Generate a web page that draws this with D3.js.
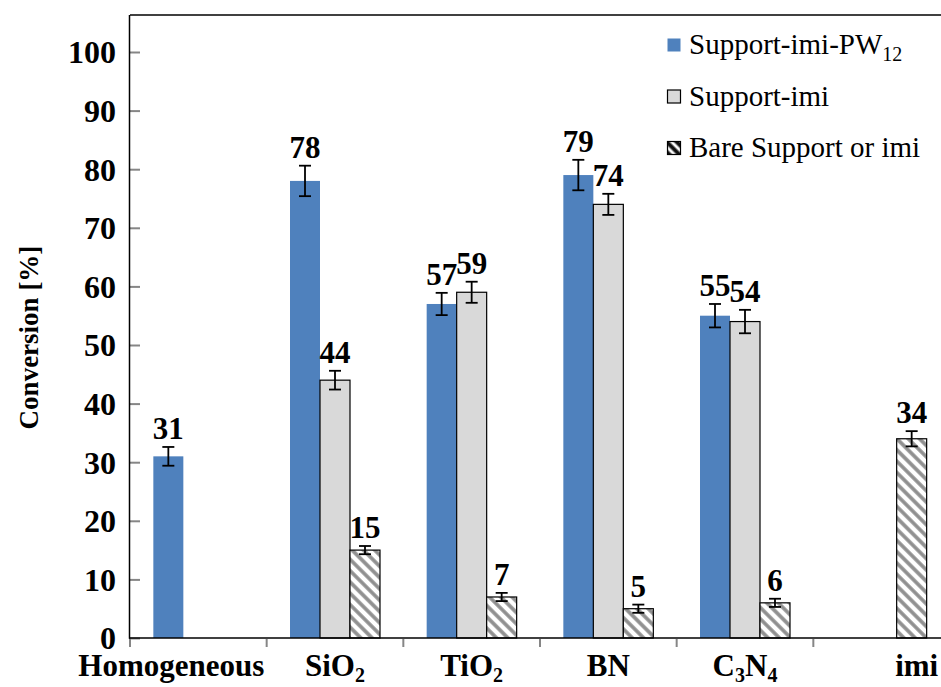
<!DOCTYPE html>
<html>
<head>
<meta charset="utf-8">
<script src="https://cdn.jsdelivr.net/npm/d3@7"></script>
<style>
  html, body { margin: 0; padding: 0; background: #fff; }
  svg { display: block; }
  text { font-family: "Liberation Serif", serif; fill: #000; }
</style>
</head>
<body>
<div id="chart"></div>
<script>
// Catalyst conversion by support
const categories = ["Homogeneous", "SiO2", "TiO2", "BN", "C3N4", "imi"];
const seriesNames = ["Support-imi-PW12", "Support-imi", "Bare Support or imi"];

const pw12Values = [31, 78, 57, 79, 55, null];
const pw12Errors = [1.6, 2.6, 1.9, 2.6, 2.0, null];

const imiValues = [null, 44, 59, 74, 54, null];
const imiErrors = [null, 1.6, 1.8, 1.8, 2.0, null];

const bareValues = [null, 15, 7, 5, 6, 34];
const bareErrors = [null, 0.7, 0.7, 0.7, 0.7, 1.3];

const yTicks = [0, 10, 20, 30, 40, 50, 60, 70, 80, 90, 100];
const yTitle = "Conversion [%]";

// layout
const FONT = "'Liberation Serif', serif";
const W = 941, H = 687;
const plot = { left: 130, right: 950, top: 15, bottom: 638 };
const labelNudge = { Homogeneous: -27, imi: 35 };

const svg = d3.select("#chart").append("svg")
  .attr("width", W).attr("height", H);

// fills
const defs = svg.append("defs");
const hatch = defs.append("pattern")
  .attr("id", "hatch").attr("patternUnits", "userSpaceOnUse")
  .attr("width", 8).attr("height", 8)
  .attr("patternTransform", "rotate(-45)");
hatch.append("rect").attr("width", 8).attr("height", 8).attr("fill", "#fff");
hatch.append("line").attr("x1", 4).attr("x2", 4).attr("y1", 0).attr("y2", 8)
  .attr("stroke", "#8f8f8f").attr("stroke-width", 3.6);

const hatchKey = defs.append("pattern")
  .attr("id", "hatchKey").attr("patternUnits", "userSpaceOnUse")
  .attr("width", 7).attr("height", 7)
  .attr("patternTransform", "rotate(-45)");
hatchKey.append("rect").attr("width", 7).attr("height", 7).attr("fill", "#fff");
hatchKey.append("line").attr("x1", 3.5).attr("x2", 3.5).attr("y1", 0).attr("y2", 7)
  .attr("stroke", "#111").attr("stroke-width", 4);

const series = [
  { name: seriesNames[0], values: pw12Values, errors: pw12Errors, fill: "#4f81bd", stroke: "none" },
  { name: seriesNames[1], values: imiValues, errors: imiErrors, fill: "#d9d9d9", stroke: "#000" },
  { name: seriesNames[2], values: bareValues, errors: bareErrors, fill: "url(#hatch)", stroke: "#000" }
];

const x0 = d3.scaleBand().domain(categories).range([plot.left, plot.right]).padding(0);
const x1 = d3.scaleBand().domain(seriesNames).range([0, x0.bandwidth()])
  .paddingInner(0).paddingOuter(0.778);
const y = d3.scaleLinear().domain([0, 100]).range([plot.bottom, 52]);

// subscripted chemical labels: digits become subscripts
function writeFormula(textSel, label, size, subSize, shift) {
  const parts = label.match(/[0-9]+|[^0-9]+/g);
  let lowered = false;
  parts.forEach(p => {
    const isSub = /^[0-9]+$/.test(p);
    const t = textSel.append("tspan").text(p)
      .style("font-size", (isSub ? subSize : size) + "px");
    if (isSub && !lowered) { t.attr("dy", shift); lowered = true; }
    else if (!isSub && lowered) { t.attr("dy", -shift); lowered = false; }
  });
}

// plot frame: top border
svg.append("line")
  .attr("x1", plot.left).attr("x2", W).attr("y1", plot.top).attr("y2", plot.top)
  .attr("stroke", "#000").attr("stroke-width", 1.5);

// bars, error bars and value labels
const groups = svg.append("g").selectAll("g").data(series).join("g");
groups.each(function(s) {
  const g = d3.select(this);
  const rows = categories.map((c, i) => ({ c, v: s.values[i], e: s.errors[i] }))
    .filter(d => d.v !== null);
  g.selectAll("rect").data(rows).join("rect")
    .attr("x", d => x0(d.c) + x1(s.name))
    .attr("width", x1.bandwidth())
    .attr("y", d => y(d.v))
    .attr("height", d => y(0) - y(d.v))
    .attr("fill", s.fill)
    .attr("stroke", s.stroke)
    .attr("stroke-width", 1.2);

  const cx = d => x0(d.c) + x1(s.name) + x1.bandwidth() / 2;
  const eb = g.selectAll("g.err").data(rows).join("g").attr("class", "err")
    .attr("stroke", "#000").attr("stroke-width", 1.8);
  eb.append("line").attr("x1", cx).attr("x2", cx)
    .attr("y1", d => y(d.v + d.e)).attr("y2", d => y(d.v - d.e));
  eb.append("line").attr("x1", d => cx(d) - 6).attr("x2", d => cx(d) + 6)
    .attr("y1", d => y(d.v + d.e)).attr("y2", d => y(d.v + d.e));
  eb.append("line").attr("x1", d => cx(d) - 6).attr("x2", d => cx(d) + 6)
    .attr("y1", d => y(d.v - d.e)).attr("y2", d => y(d.v - d.e));

  g.selectAll("text.val").data(rows).join("text").attr("class", "val")
    .attr("x", cx)
    .attr("y", d => y(d.v + d.e) - 8)
    .attr("text-anchor", "middle")
    .style("font-family", FONT)
    .style("font-size", "31px").style("font-weight", "bold")
    .text(d => d.v);
});

// y axis
const yAxis = svg.append("g").attr("transform", `translate(${plot.left},0)`)
  .call(d3.axisLeft(y).tickValues(yTicks).tickSizeInner(-10).tickSizeOuter(0).tickPadding(14));
yAxis.select(".domain").remove();
yAxis.selectAll(".tick line").attr("stroke", "#868686").attr("stroke-width", 2);
yAxis.selectAll(".tick text")
  .style("font-family", FONT)
  .style("font-size", "32px").style("font-weight", "bold").attr("fill", "#000")
  .attr("dy", "0.34em");
svg.append("line")
  .attr("x1", plot.left - 0.5).attr("x2", plot.left - 0.5)
  .attr("y1", plot.top).attr("y2", plot.bottom + 0.75)
  .attr("stroke", "#000").attr("stroke-width", 1.5);

// x axis
const xAxis = svg.append("g").attr("transform", `translate(0,${plot.bottom})`)
  .call(d3.axisBottom(x0).tickSize(0).tickPadding(0).tickFormat(""));
xAxis.select(".domain").remove();
svg.append("line")
  .attr("x1", plot.left - 1).attr("x2", W)
  .attr("y1", plot.bottom).attr("y2", plot.bottom)
  .attr("stroke", "#000").attr("stroke-width", 1.5);
// category boundary ticks
svg.append("g").selectAll("line").data(categories).join("line")
  .attr("x1", d => x0(d)).attr("x2", d => x0(d))
  .attr("y1", plot.bottom + 1).attr("y2", plot.bottom + 9)
  .attr("stroke", "#868686").attr("stroke-width", 2);
// category labels
xAxis.selectAll(".tick").each(function(c) {
  const t = d3.select(this).append("text")
    .attr("x", labelNudge[c] || 0)
    .attr("y", 38).attr("text-anchor", "middle")
    .style("font-family", FONT)
    .style("font-size", "31px").style("font-weight", "bold").attr("fill", "#000");
  writeFormula(t, c, 31, 20, 6);
});

// y axis title
svg.append("text")
  .attr("transform", `translate(38,${(plot.top + plot.bottom) / 2 + 11}) rotate(-90)`)
  .attr("text-anchor", "middle")
  .style("font-family", FONT)
  .style("font-size", "27px").style("font-weight", "bold")
  .text(yTitle);

// legend
const legendFills = [
  { fill: "#4f81bd", stroke: "none" },
  { fill: "#d9d9d9", stroke: "#000" },
  { fill: "url(#hatchKey)", stroke: "#000" }
];
const legend = svg.append("g").attr("transform", "translate(667,0)");
const items = legend.selectAll("g").data(seriesNames).join("g")
  .attr("transform", (d, i) => `translate(0,${54 + i * 51.5})`);
items.append("rect")
  .attr("x", 0.5).attr("y", -15.5).attr("width", 13).attr("height", 13)
  .attr("fill", (d, i) => legendFills[i].fill)
  .attr("stroke", (d, i) => legendFills[i].stroke).attr("stroke-width", 1.2);
items.each(function(name) {
  const t = d3.select(this).append("text").attr("x", 22)
    .style("font-family", FONT)
    .style("font-size", "29px");
  writeFormula(t, name, 29, 20, 7);
});
</script>
</body>
</html>
